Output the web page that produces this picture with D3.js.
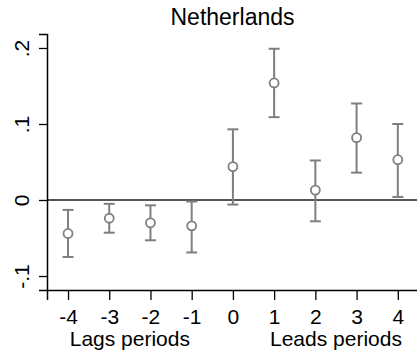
<!DOCTYPE html>
<html lang="en">
<head>
    <meta charset="UTF-8">
    <title>Netherlands</title>
    <script src="https://d3js.org/d3.v7.min.js"></script>
    <style>
        body { margin: 0; background: white; }
        text { font-family: "Liberation Sans", Arial, sans-serif; }
    </style>
</head>
<body>
    <div id="chart"></div>

    <script>
        // data ------------------------------------------------------------
        const periods = [-4, -3, -2, -1, 0, 1, 2, 3, 4];
        const coefs = [-0.044, -0.024, -0.030, -0.034, 0.044, 0.154, 0.013, 0.082, 0.053];
        const lower = [-0.075, -0.043, -0.053, -0.069, -0.006, 0.109, -0.028, 0.036, 0.004];
        const upper = [-0.013, -0.005, -0.007, -0.002, 0.093, 0.199, 0.052, 0.127, 0.100];
        const yTicks = [-0.1, 0, 0.1, 0.2];
        const yTickLabels = ["-.1", "0", ".1", ".2"];
        const titleText = "Netherlands";
        const axisTitles = [{label: "Lags periods", at: -2.5}, {label: "Leads periods", at: 2.5}];

        const svg = d3.select("#chart").append("svg")
            .attr("width", 417)
            .attr("height", 360);

        const corner = {top: 34, bottom: 290, left: 47, right: 418};

        const xScale = d3.scaleLinear().domain([-4.51, 4.49]).range([corner.left, corner.right]);
        const yScale = d3.scaleLinear().domain([-0.1184, 0.2184]).range([corner.bottom, corner.top]);

        const gray = "#7f7f7f";

        // zero reference line
        svg.append("line")
            .attr("x1", corner.left)
            .attr("x2", corner.right)
            .attr("y1", yScale(0))
            .attr("y2", yScale(0))
            .attr("stroke", "#555")
            .attr("stroke-width", 2);

        // y axis
        const yAxis = d3.axisLeft(yScale)
            .tickValues(yTicks)
            .tickFormat((d, i) => yTickLabels[i])
            .tickSizeOuter(0)
            .tickSize(8);
        const gy = svg.append("g")
            .attr("transform", `translate(${corner.left},0)`)
            .call(yAxis);
        gy.select(".domain").attr("stroke", "#000").attr("stroke-width", 1.5);
        gy.selectAll(".tick line").attr("stroke", "#000").attr("stroke-width", 1.3);
        gy.selectAll(".tick text")
            .attr("font-size", 21)
            .attr("fill", "#000")
            .attr("text-anchor", "middle")
            .attr("x", null)
            .attr("dy", null)
            .attr("transform", "translate(-18,0) rotate(-90)");

        // x axis
        const xAxis = d3.axisBottom(xScale)
            .tickValues(periods)
            .tickFormat(d3.format("d"))
            .tickSizeOuter(0)
            .tickSize(10)
            .tickPadding(9);
        const gx = svg.append("g")
            .attr("transform", `translate(0,${corner.bottom})`)
            .call(xAxis);
        gx.select(".domain").attr("stroke", "#000").attr("stroke-width", 1.5);
        gx.selectAll(".tick line").attr("stroke", "#000").attr("stroke-width", 1.3);
        gx.selectAll(".tick text")
            .attr("font-size", 21)
            .attr("fill", "#000")
            .text(d => d < 0 ? "-" + Math.abs(d) : d);

        // axis titles
        axisTitles.forEach(t => {
            svg.append("text")
                .attr("x", xScale(t.at))
                .attr("y", 346)
                .attr("text-anchor", "middle")
                .attr("font-size", 21)
                .text(t.label);
        });

        // title
        svg.append("text")
            .attr("x", (corner.left + corner.right) / 2)
            .attr("y", 25)
            .attr("text-anchor", "middle")
            .attr("font-size", 23)
            .text(titleText);

        // error bars and points
        periods.forEach((p, i) => {
            const cx = xScale(p);
            svg.append("line")
                .attr("x1", cx).attr("x2", cx)
                .attr("y1", yScale(lower[i])).attr("y2", yScale(upper[i]))
                .attr("stroke", gray).attr("stroke-width", 2);
            [lower[i], upper[i]].forEach(v => {
                svg.append("line")
                    .attr("x1", cx - 5.5).attr("x2", cx + 5.5)
                    .attr("y1", yScale(v)).attr("y2", yScale(v))
                    .attr("stroke", gray).attr("stroke-width", 2);
            });
            svg.append("circle")
                .attr("cx", cx)
                .attr("cy", yScale(coefs[i]))
                .attr("r", 4.5)
                .attr("fill", "white")
                .attr("stroke", gray)
                .attr("stroke-width", 1.8);
        });
    </script>
</body>
</html>
